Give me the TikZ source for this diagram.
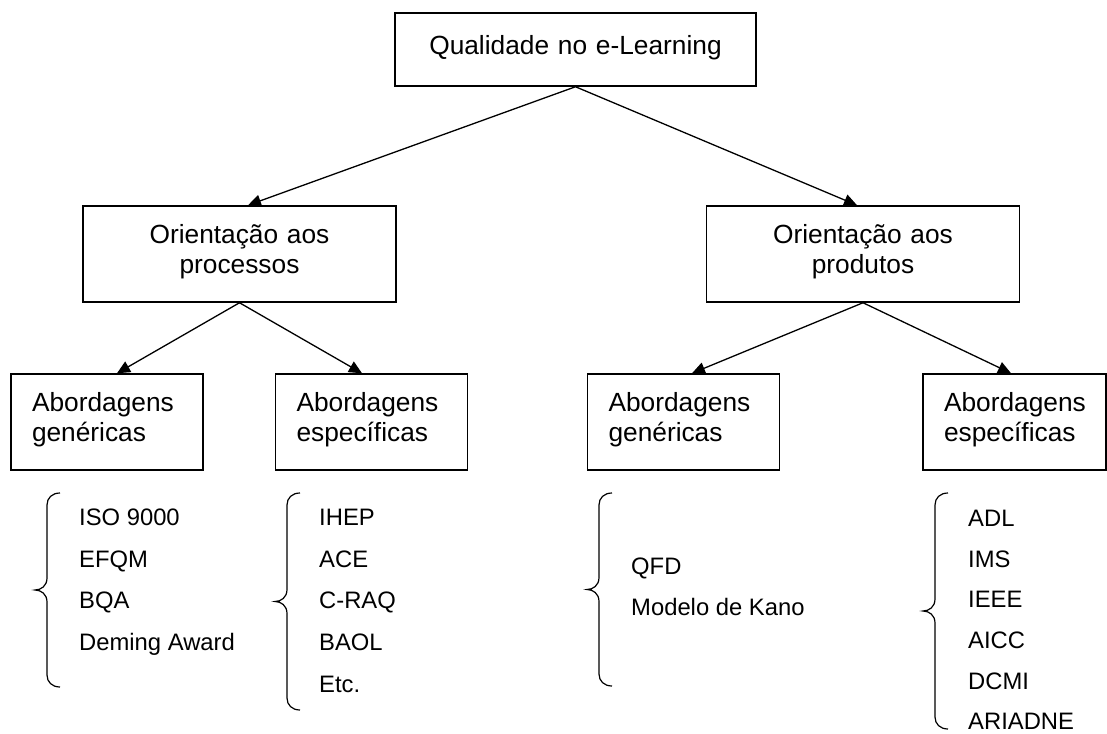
\documentclass[tikz,border=0pt]{standalone}
\usepackage{fontspec}
\setmainfont{Liberation Sans}
\usetikzlibrary{
  positioning,
  calc,
  arrows.meta}
\newcommand{\qboxfont}{\fontsize{26.3pt}{30pt}\selectfont}
\newcommand{\qlistfont}{\fontsize{23.8pt}{28pt}\selectfont}
\tikzset{
  %% rootbox : the topic at the top
  rootbox/.style={
    rectangle,
    draw=black,
    line width=1.5pt,
    font=\qboxfont,
    minimum width=361pt,
    minimum height=73pt,
    inner xsep=20pt,
    inner ysep=0pt,
    text width=321pt,
    text height=20pt,
    text depth=10.2pt,
    align=center
  },
  %% orientbox : orientation (processes / products)
  orientbox/.style={
    rectangle,
    draw=black,
    line width=1.5pt,
    font=\qboxfont,
    minimum width=313pt,
    minimum height=96pt,
    inner xsep=20pt,
    inner ysep=0pt,
    text width=273pt,
    text height=19pt,
    text depth=41pt,
    align=center
  },
  %% approachbox : generic or specific approaches
  approachbox/.style={
    rectangle,
    draw=black,
    line width=1.5pt,
    font=\qboxfont,
    minimum height=96pt,
    inner xsep=21pt,
    inner ysep=0pt,
    text width=150pt,
    text height=19pt,
    text depth=41pt,
    align=left
  },
  %% listitem : one entry next to a brace
  listitem/.style={
    anchor=base west,
    inner sep=0pt,
    font=\qlistfont
  },
  %% link : arrow from a box to a sub-box
  link/.style={
    line width=1.3pt,
    -{Triangle[length=13pt,width=12pt]}
  },
  %% bracelines : the line of a brace
  bracelines/.style={line width=1.2pt},
  %% wbrace : left curly brace, #1 is its height
  pics/wbrace/.style={code={
    \draw [bracelines] (13,0) .. controls (5,0) and (0,5) .. (0,12)
      -- (0,#1/2-12) .. controls (0,#1/2-4) and (-6,#1/2) .. (-12,#1/2)
      .. controls (-6,#1/2) and (0,#1/2+4) .. (0,#1/2+12)
      -- (0,#1-12) .. controls (0,#1-5) and (5,#1) .. (13,#1);
  }}
}

\begin{document}
\begin{tikzpicture}
  [x=1pt,
  y=-1pt]

  \useasboundingbox (0,0) rectangle (1107,733);

  %% Boxes
  \node (quality) [rootbox] at (575.5,49.5) {%
    Qualidade no e-Learning
  };

  \node (process) [orientbox] at (239.5,254) {%
    Orientação aos\\processos
  };

  \node (product) [orientbox] at (863,254) {%
    Orientação aos\\produtos
  };

  \node (gen1) [approachbox] at (107,422) {%
    Abordagens\\genéricas
  };

  \node (spec1) [approachbox] at (371.5,422) {%
    Abordagens\\específicas
  };

  \node (gen2) [approachbox] at (683.5,422) {%
    Abordagens\\genéricas
  };

  \node (spec2) [approachbox, text width=141pt] at (1014.5,422) {%
    Abordagens\\específicas
  };

  %% Connections
  \draw [link] (quality.south) -- ([xshift=8.5pt]process.north);
  \draw [link] (quality.south) -- ([xshift=-6pt]product.north);
  \draw [link] (process.south) -- ([xshift=10pt]gen1.north);
  \draw [link] (process.south) -- ([xshift=-9.5pt]spec1.north);
  \draw [link] (product.south) -- ([xshift=8.5pt]gen2.north);
  \draw [link] (product.south) -- ([xshift=-3.5pt]spec2.north);

  %% Braces
  \pic at (47,493) {wbrace=194};
  \pic at (287,493) {wbrace=217};
  \pic at (599,493) {wbrace=193};
  \pic at (935,493) {wbrace=236};

  %% Generic approaches, processes
  \node (iso) [listitem] at (79,525.5) {ISO 9000};
  \node (efqm) [listitem] at (79,567.2) {EFQM};
  \node (bqa) [listitem] at (79,608.9) {BQA};
  \node (deming) [listitem] at (79,650.6) {Deming Award};

  %% Specific approaches, processes
  \node (ihep) [listitem] at (319,525.5) {IHEP};
  \node (ace) [listitem] at (319,567.2) {ACE};
  \node (craq) [listitem] at (319,608.9) {C-RAQ};
  \node (baol) [listitem] at (319,650.6) {BAOL};
  \node (etc) [listitem] at (319,692.3) {Etc.};

  %% Generic approaches, products
  \node (qfd) [listitem] at (631,574.5) {QFD};
  \node (kano) [listitem] at (631,615.8) {Modelo de Kano};

  %% Specific approaches, products
  \node (adl) [listitem] at (968,526.5) {ADL};
  \node (ims) [listitem] at (968,567.2) {IMS};
  \node (ieee) [listitem] at (968,607.9) {IEEE};
  \node (aicc) [listitem] at (968,648.6) {AICC};
  \node (dcmi) [listitem] at (968,689.3) {DCMI};
  \node (ariadne) [listitem] at (968,729) {ARIADNE};

\end{tikzpicture}
\end{document}
